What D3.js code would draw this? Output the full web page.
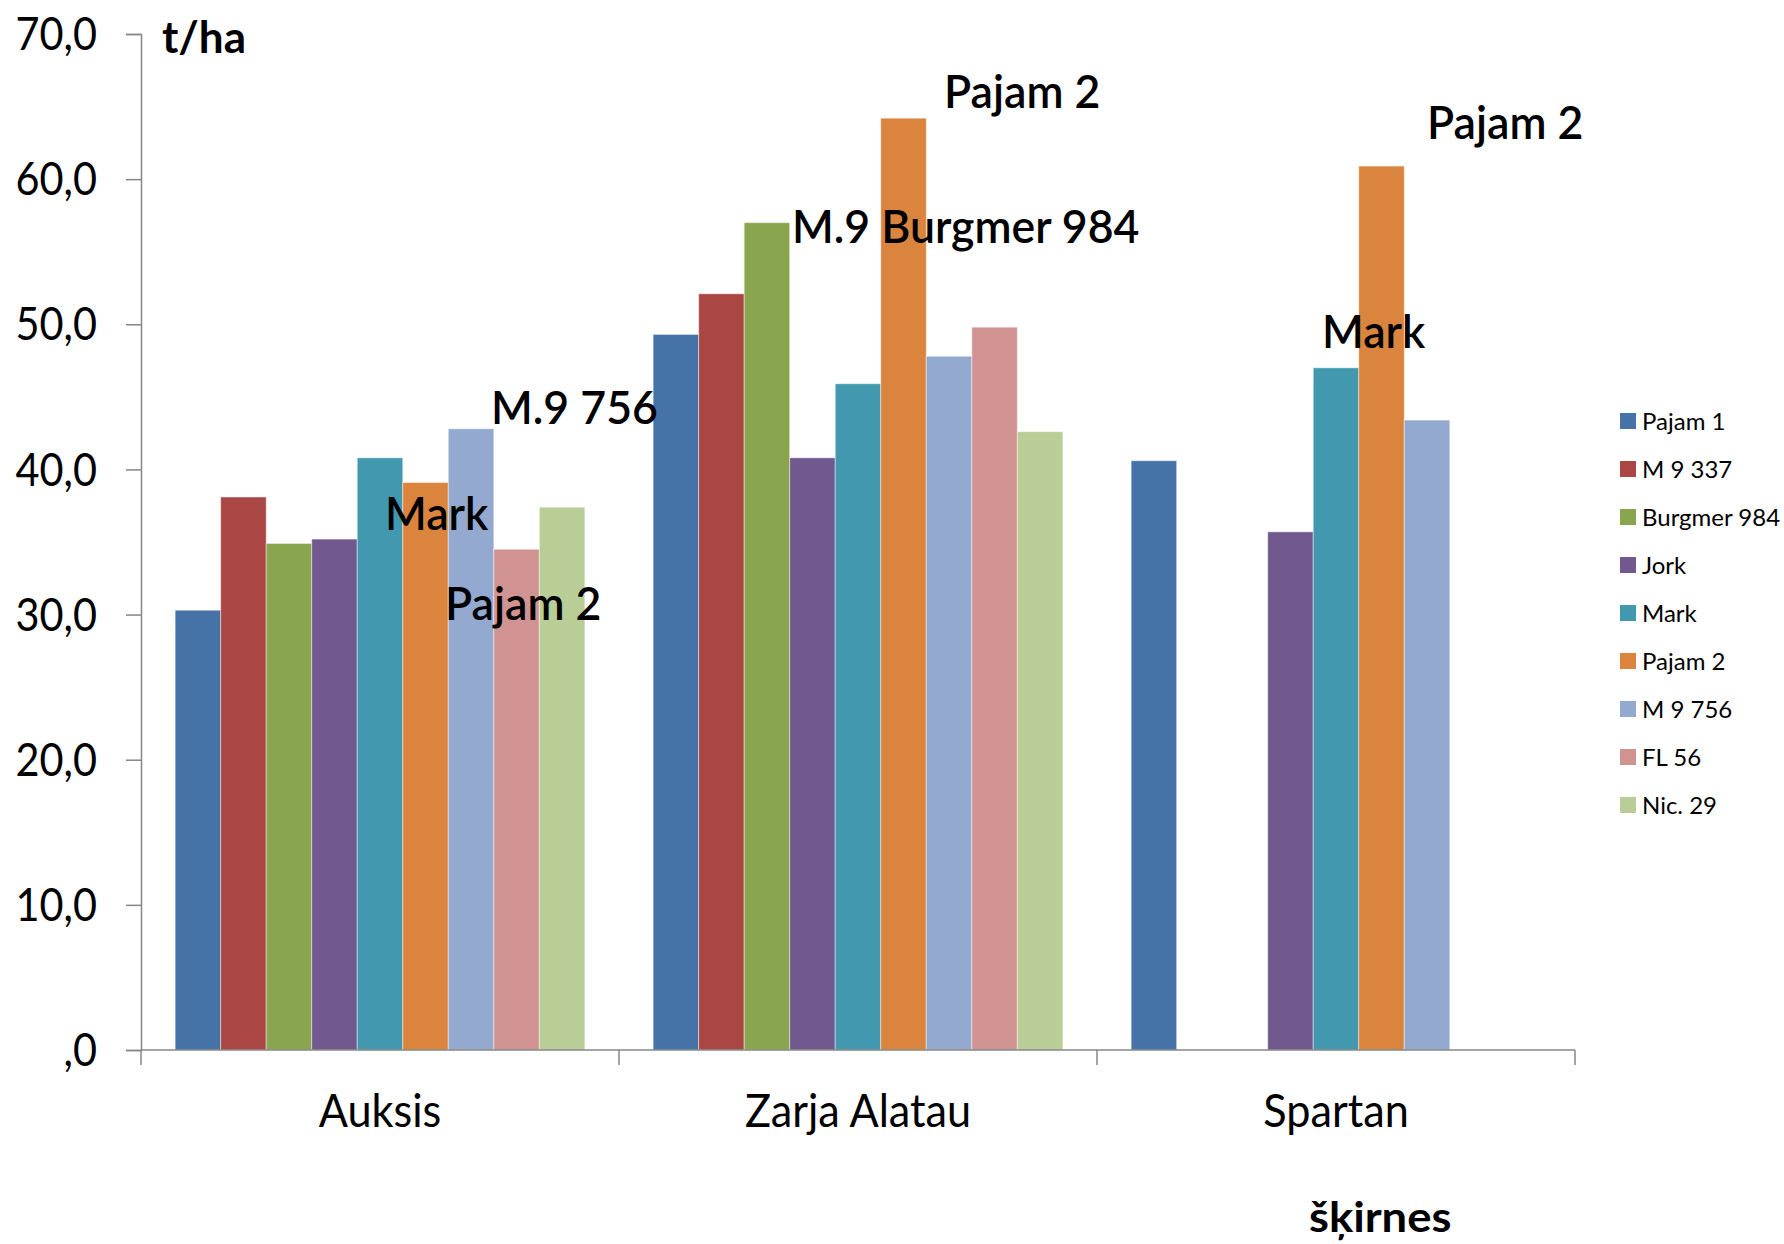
<!DOCTYPE html>
<html><head><meta charset="utf-8">
<script src="https://cdn.jsdelivr.net/npm/d3@7"></script>
<style>html,body{margin:0;padding:0;background:#fff}svg{display:block}</style>
</head><body>
<script>
// ---- data ----
const categories = ["Auksis", "Zarja Alatau", "Spartan"];
const seriesNames = ["Pajam 1", "M 9 337", "Burgmer 984", "Jork", "Mark", "Pajam 2", "M 9 756", "FL 56", "Nic. 29"];
const auksis = [30.3, 38.1, 34.9, 35.2, 40.8, 39.1, 42.8, 34.5, 37.4];
const zarjaAlatau = [49.3, 52.1, 57.0, 40.8, 45.9, 64.2, 47.8, 49.8, 42.6];
const spartan = [40.6, null, null, 35.7, 47.0, 60.9, 43.4, null, null];
const yTicks = [0, 10, 20, 30, 40, 50, 60, 70];
const seriesColors = ["#4572A7", "#AA4643", "#89A54E", "#71588F", "#4198AF", "#DB843D", "#93A9CF", "#D19392", "#B9CD96"];
const annotationTexts = [
  {cat: "Auksis", text: "M.9 756"},
  {cat: "Auksis", text: "Mark"},
  {cat: "Auksis", text: "Pajam 2"},
  {cat: "Zarja Alatau", text: "Pajam 2"},
  {cat: "Zarja Alatau", text: "M.9 Burgmer 984"},
  {cat: "Spartan", text: "Pajam 2"},
  {cat: "Spartan", text: "Mark"}
];
// ---- layout ----
const annotationPos = [[350, 43.1], [244, 35.8], [304, 29.6], [325, 64.9], [173, 55.6], [330, 62.8], [225, 48.4]];
const W = 1784, H = 1244;
const plot = {left: 141, right: 1575, top: 34, bottom: 1050};
const FONT = "Lato, 'Open Sans', sans-serif";
const values = [auksis, zarjaAlatau, spartan];

const svg = d3.select("body").append("svg").attr("width", W).attr("height", H);

const x = d3.scaleBand().domain(categories).range([plot.left, plot.right]).paddingInner(0).paddingOuter(0);
const xs = d3.scaleBand().domain(seriesNames).range([0, x.bandwidth()]).paddingInner(0).paddingOuter(0.75);
const y = d3.scaleLinear().domain([0, 70]).range([plot.bottom, plot.top]);
const color = d3.scaleOrdinal().domain(seriesNames).range(seriesColors);

// bars
const rows = [];
categories.forEach((c, ci) => seriesNames.forEach((s, si) => {
  const v = values[ci][si];
  if (v != null) rows.push({c, s, v});
}));
svg.append("g").selectAll("rect").data(rows).join("rect")
  .attr("x", d => x(d.c) + xs(d.s))
  .attr("width", xs.bandwidth())
  .attr("y", d => y(d.v))
  .attr("height", d => y(0) - y(d.v))
  .attr("fill", d => color(d.s))
  .attr("stroke", "#ffffff").attr("stroke-opacity", 0.45).attr("stroke-width", 1);

const axisColor = "#868686";
const sxTick = 0.9;
// y axis
const yAxis = svg.append("g").attr("transform", `translate(${plot.left},0)`)
  .call(d3.axisLeft(y).tickValues(yTicks).tickSize(15).tickPadding(0)
    .tickFormat(d => d === 0 ? ",0" : d.toFixed(1).replace(".", ",")));
yAxis.select(".domain").attr("stroke", axisColor).attr("stroke-width", 1.5);
yAxis.selectAll(".tick line").attr("stroke", axisColor).attr("stroke-width", 1.5);
yAxis.selectAll(".tick text")
  .attr("font-family", FONT).attr("font-size", 46).attr("font-weight", 400).attr("fill", "#000")
  .attr("x", -44 / sxTick).attr("dy", "0.34em")
  .attr("transform", `scale(${sxTick},1)`);

// x axis
const xAxis = svg.append("g").attr("transform", `translate(0,${plot.bottom})`)
  .call(d3.axisBottom(x).tickSize(0));
xAxis.select(".domain").remove();
xAxis.append("line").attr("x1", plot.left).attr("x2", plot.right).attr("y1", 0).attr("y2", 0)
  .attr("stroke", axisColor).attr("stroke-width", 1.5);
const bounds = categories.map(c => x(c)).concat([x(categories[categories.length - 1]) + x.bandwidth()]);
xAxis.selectAll(".bound").data(bounds).join("line").attr("class", "bound")
  .attr("x1", d => d).attr("x2", d => d).attr("y1", 0).attr("y2", 15)
  .attr("stroke", axisColor).attr("stroke-width", 1.5);
const sxCat = 0.94;
xAxis.selectAll(".tick text")
  .attr("font-family", FONT).attr("font-size", 46).attr("font-weight", 400).attr("fill", "#000")
  .attr("y", 77).attr("dy", null).attr("x", 0)
  .attr("transform", `scale(${sxCat},1)`);
xAxis.selectAll(".tick").attr("transform", d => `translate(${x(d) + x.bandwidth() / 2},0)`);

// helper for condensed text
function ctext(str, px, py, opts) {
  const g = svg.append("g").attr("transform", `translate(${px},${py}) scale(${opts.sx || 1},1)`);
  g.append("text").text(str)
    .attr("font-family", FONT).attr("font-size", opts.size).attr("font-weight", opts.weight || 400)
    .attr("text-anchor", opts.anchor || "start").attr("fill", "#000");
}

// annotations
annotationTexts.forEach((a, i) => {
  const [dx, v] = annotationPos[i];
  ctext(a.text, x(a.cat) + dx, y(v), {size: 46, weight: 600, sx: 0.97});
});

// axis titles
ctext("t/ha", 162, 53, {size: 44, weight: 700, sx: 1.0});
ctext("šķirnes", 1309, 1232, {size: 42, weight: 700, sx: 1.08});

// legend
const lg = svg.append("g").attr("transform", "translate(1620,421)");
const li = lg.selectAll("g").data(seriesNames).join("g").attr("transform", (d, i) => `translate(0,${i * 48})`);
li.append("rect").attr("x", 0).attr("y", -8).attr("width", 16).attr("height", 16).attr("fill", d => color(d));
li.append("text").attr("x", 22).attr("dy", "0.36em").text(d => d)
  .attr("font-family", FONT).attr("font-size", 24).attr("fill", "#000");
</script>
</body></html>
